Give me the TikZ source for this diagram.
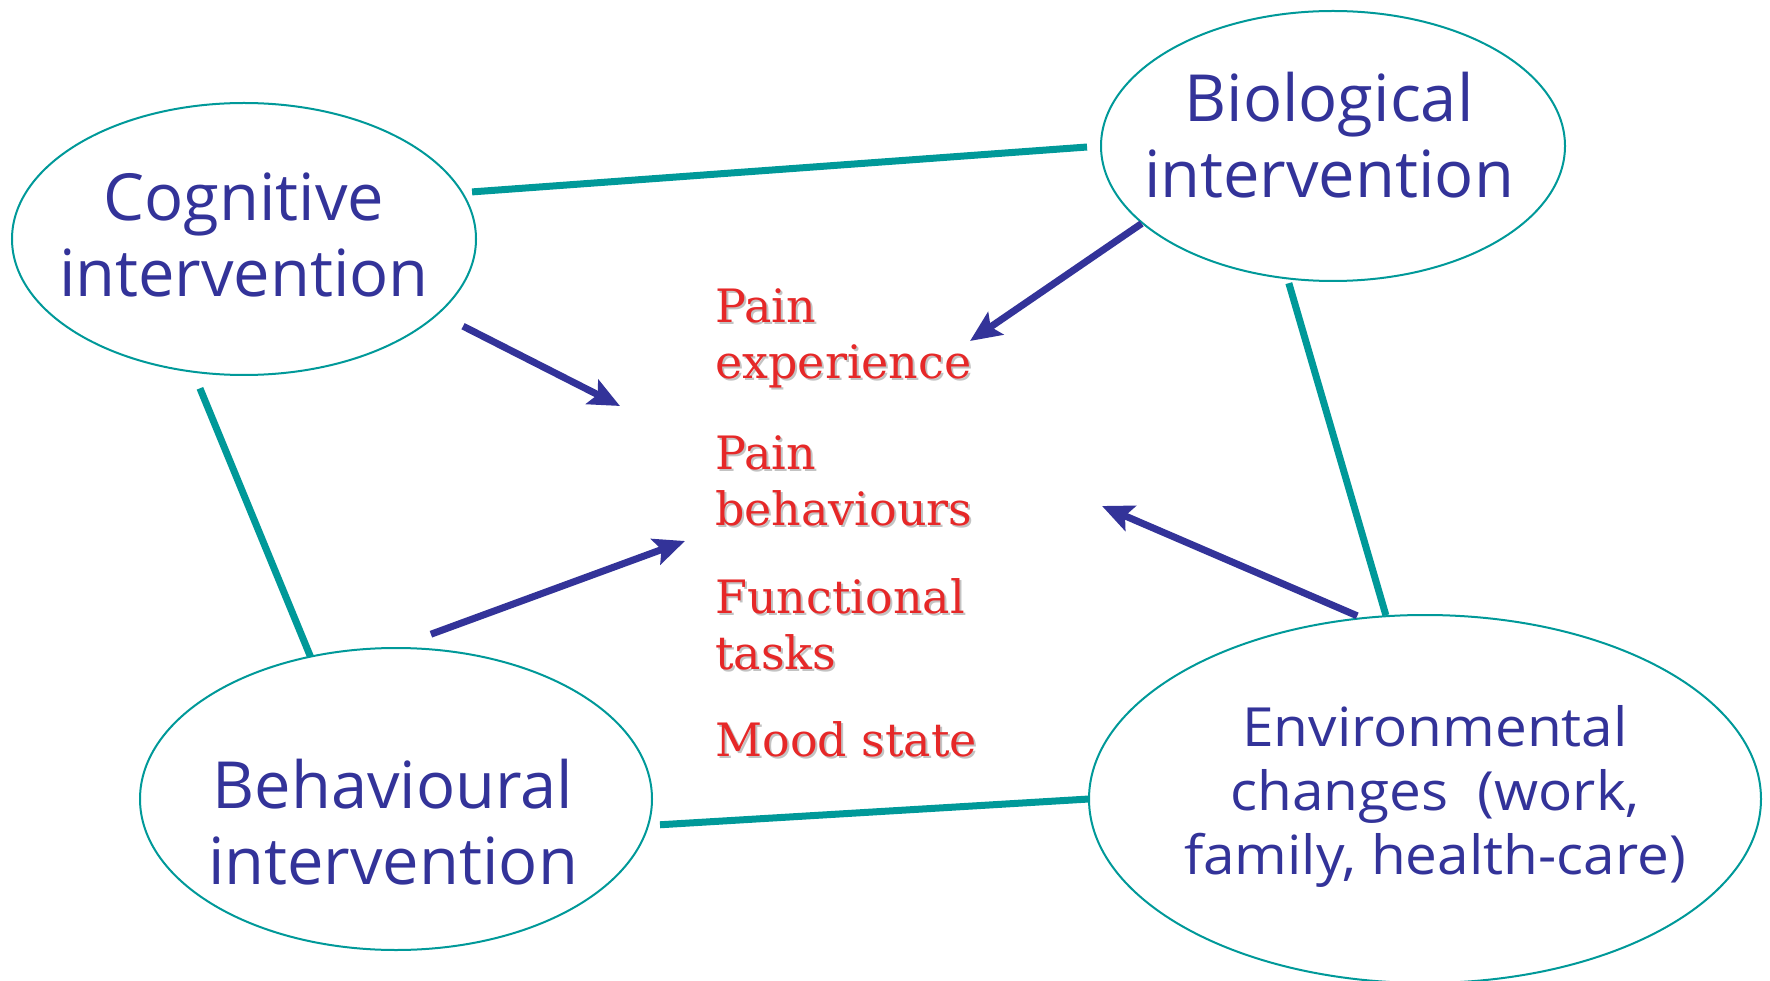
\documentclass[tikz,border=0pt]{standalone}
\usepackage{fontspec}
\setmainfont{Open Sans}
\newfontfamily\redfont{DejaVu Serif}
\newfontfamily\envfont[FakeStretch=1.05]{Open Sans}
\usetikzlibrary{arrows.meta,shapes.geometric}
\definecolor{navy}{RGB}{51,51,153}
\definecolor{tealc}{RGB}{0,153,153}
\definecolor{redc}{RGB}{230,40,40}
\definecolor{shadowc}{RGB}{195,195,195}
\begin{document}
\begin{tikzpicture}[x=1pt,y=-1pt,
 ell/.style={ellipse, draw=tealc, line width=2pt, inner sep=0pt, outer sep=0pt},
 bluetxt/.style={text=navy, align=center, font=\fontsize{65}{76}\selectfont, inner sep=0pt, anchor=base},
 envtxt/.style={text=navy, align=center, font=\envfont\fontsize{54}{64}\selectfont, inner sep=0pt, anchor=base},
 link/.style={draw=tealc, line width=7pt},
 arr/.style={draw=navy, line width=7pt, -{Stealth[length=31pt,width=27pt,inset=6pt]}},
 outtxt/.style={text=redc, align=left, font=\redfont\fontsize{46}{56}\selectfont, inner sep=0pt, anchor=base west},
 outshadow/.style={outtxt, text=shadowc}]
\useasboundingbox[fill=white] (0,0) rectangle (1770,981);

% ellipses
\node[ell, minimum width=464pt, minimum height=272pt] (cog) at (244,239) {};
\node[ell, minimum width=464pt, minimum height=270pt] (bio) at (1333,146) {};
\node[ell, minimum width=512pt, minimum height=302pt] (beh) at (396,799) {};
\node[ell, minimum width=672pt, minimum height=368pt] (env) at (1425,799) {};

% ellipse texts (base = baseline of last line)
\node[bluetxt] (cogT) at (244,297) {Cognitive\\intervention};
\node[bluetxt] (bioT) at (1329,198) {Biological\\intervention};
\node[bluetxt] (behT) at (393,884) {Behavioural\\intervention};
\node[envtxt] (envT) at (1435,874) {Environmental\\changes~~(work,\\family, health-care)};

% outcome texts (shadow then text)
\node[outshadow] (s1) at (717,381) {Pain\\experience};
\node[outshadow] (s2) at (717,527) {Pain\\behaviours};
\node[outshadow] (s3) at (717,671) {Functional\\tasks};
\node[outshadow] (s4) at (717,758) {Mood state};
\node[outtxt] (o1) at (715,379) {Pain\\experience};
\node[outtxt] (o2) at (715,525) {Pain\\behaviours};
\node[outtxt] (o3) at (715,669) {Functional\\tasks};
\node[outtxt] (o4) at (715,756) {Mood state};

% teal links
\draw[link, shorten <=10pt, shorten >=14pt] (cog.12) -- (bio.180);
\draw[link, shorten <=18pt] (cog.249.9) -- (beh.121.9);
\draw[link, shorten <=5pt, shorten >=1pt] (bio.251.5) -- (env.102.5);
\draw[link, shorten <=12pt] (beh.-6.3) -- (env.180);

% arrows
\coordinate (t1) at (620,406);
\coordinate (t2) at (970,341);
\coordinate (t3) at (685,541);
\coordinate (t4) at (1102,506);
\draw[arr, shorten <=28pt] (cog.-21.8) -- (t1);
\draw[arr, shorten <=1pt] (bio.202.2) -- (t2);
\draw[arr, shorten <=40pt] (beh.91.1) -- (t3);
\draw[arr, shorten <=6pt] (env.109.4) -- (t4);
\end{tikzpicture}
\end{document}
